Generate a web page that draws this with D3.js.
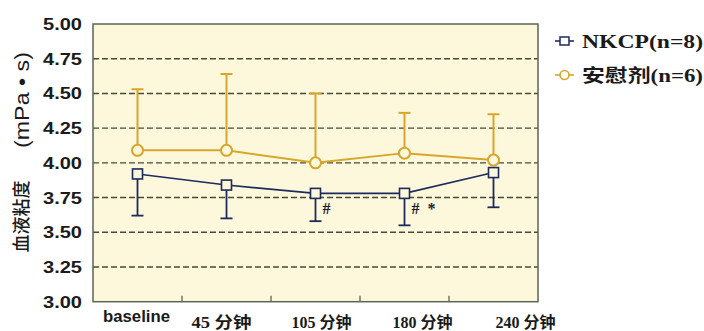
<!DOCTYPE html>
<html><head><meta charset="utf-8">
<script src="https://cdn.jsdelivr.net/npm/d3@7/dist/d3.min.js"></script>
<style>
html,body{margin:0;padding:0;background:#fff;}
svg{display:block;}
</style></head>
<body>
<svg id="c" width="704" height="331"></svg>
<script>
// ---- data ----
const categories = ["baseline", "45 分钟", "105 分钟", "180 分钟", "240 分钟"];
const nkcpMean = [3.92, 3.84, 3.78, 3.78, 3.93];
const nkcpLow  = [3.62, 3.60, 3.58, 3.55, 3.68];
const placeboMean = [4.09, 4.09, 4.00, 4.07, 4.02];
const placeboHigh = [4.53, 4.64, 4.50, 4.36, 4.35];
const yTicks = [3.00, 3.25, 3.50, 3.75, 4.00, 4.25, 4.50, 4.75, 5.00];
const seriesNames = ["NKCP(n=8)", "安慰剂(n=6)"];
const annotations = [{cat: "105 分钟", text: "#"}, {cat: "180 分钟", text: "# *"}];
const yTitleName = "血液粘度";
const yTitleUnit = "(mPa • s)";

// ---- layout ----
const L = 93, R = 538, T = 24, B = 301.7;
const navy = "#1d2b5c", gold = "#d7a62c", bg = "#fdf8dc", grid = "#4a4836", border = "#5b6456";
const labelShift = [-1, -5, 6, 18, 32];

const svg = d3.select("#c");
const x = d3.scalePoint().domain(categories).range([L, R]).padding(0.5);
const y = d3.scaleLinear().domain([3, 5]).range([B, T]);

// plot background
svg.append("rect").attr("x", L).attr("y", T).attr("width", R - L).attr("height", B - T)
  .attr("fill", bg);

// gridlines
svg.append("g").selectAll("line").data(yTicks.filter(d => d > 3 && d < 5)).join("line")
  .attr("x1", L).attr("x2", R).attr("y1", d => y(d)).attr("y2", d => y(d))
  .attr("stroke", grid).attr("stroke-width", 1.4).attr("stroke-dasharray", "6,3");

// border
svg.append("rect").attr("x", L).attr("y", T).attr("width", R - L).attr("height", B - T)
  .attr("fill", "none").attr("stroke", border).attr("stroke-width", 1.5);

// x ticks at band boundaries (internal)
const step = x.step();
svg.append("g").selectAll("line").data(categories.slice(1)).join("line")
  .attr("x1", d => x(d) - step / 2).attr("x2", d => x(d) - step / 2)
  .attr("y1", B).attr("y2", B - 6)
  .attr("stroke", border).attr("stroke-width", 1.3);

// y axis labels
const yAxis = svg.append("g").attr("transform", `translate(${L},0)`)
  .call(d3.axisLeft(y).tickValues(yTicks).tickFormat(d3.format(".2f")).tickSize(0).tickPadding(11));
yAxis.select(".domain").remove();
yAxis.selectAll("text")
  .attr("font-family", "'Liberation Sans', Arial, sans-serif")
  .attr("font-weight", "bold").attr("font-size", 17).attr("fill", "#1a1a1a")
  .attr("textLength", 39).attr("lengthAdjust", "spacingAndGlyphs");

// x labels
svg.append("g").selectAll("text").data(categories).join("text")
  .attr("x", (d, i) => x(d) + labelShift[i])
  .attr("y", (d, i) => i === 0 ? 322 : 328)
  .attr("text-anchor", "middle")
  .attr("font-family", (d, i) => i === 0 ? "'Liberation Sans', Arial, sans-serif" : "'Liberation Serif', 'Noto Sans CJK SC', serif")
  .attr("font-weight", "bold")
  .attr("font-size", (d, i) => i === 0 ? 16.5 : 16)
  .attr("fill", "#1a1a1a")
  .attr("textLength", (d, i) => i === 0 ? 67 : 60)
  .attr("lengthAdjust", "spacingAndGlyphs")
  .text(d => d);

// y title (two parts)
svg.append("text")
  .attr("transform", `translate(28,216.5) rotate(-90)`)
  .attr("text-anchor", "middle")
  .attr("font-family", "'Noto Sans CJK SC', sans-serif")
  .attr("font-size", 18).attr("font-weight", 500).attr("fill", "#1a1a1a")
  .text(yTitleName);
svg.append("text")
  .attr("transform", `translate(29,100) rotate(-90)`)
  .attr("text-anchor", "middle")
  .attr("font-family", "'Liberation Sans', Arial, sans-serif")
  .attr("font-size", 20).attr("fill", "#1a1a1a")
  .attr("textLength", 96).attr("lengthAdjust", "spacingAndGlyphs")
  .text(yTitleUnit);

// ---- placebo series ----
const line = d3.line().x(d => x(d.c)).y(d => y(d.v));
const pData = categories.map((c, i) => ({c, v: placeboMean[i], hi: placeboHigh[i]}));
const nData = categories.map((c, i) => ({c, v: nkcpMean[i], lo: nkcpLow[i]}));

const gP = svg.append("g");
gP.selectAll("line.eb").data(pData).join("line")
  .attr("x1", d => x(d.c)).attr("x2", d => x(d.c)).attr("y1", d => y(d.v)).attr("y2", d => y(d.hi))
  .attr("stroke", gold).attr("stroke-width", 2);
gP.selectAll("line.cap").data(pData).join("line")
  .attr("x1", d => x(d.c) - 6).attr("x2", d => x(d.c) + 6).attr("y1", d => y(d.hi)).attr("y2", d => y(d.hi))
  .attr("stroke", gold).attr("stroke-width", 2);
gP.append("path").datum(pData).attr("d", line).attr("fill", "none")
  .attr("stroke", gold).attr("stroke-width", 2);
gP.selectAll("circle").data(pData).join("circle")
  .attr("cx", d => x(d.c)).attr("cy", d => y(d.v)).attr("r", 5.5)
  .attr("fill", bg).attr("stroke", gold).attr("stroke-width", 2);

// ---- NKCP series ----
const gN = svg.append("g");
gN.selectAll("line.eb").data(nData).join("line")
  .attr("x1", d => x(d.c)).attr("x2", d => x(d.c)).attr("y1", d => y(d.v)).attr("y2", d => y(d.lo))
  .attr("stroke", navy).attr("stroke-width", 1.8);
gN.selectAll("line.cap").data(nData).join("line")
  .attr("x1", d => x(d.c) - 6).attr("x2", d => x(d.c) + 6).attr("y1", d => y(d.lo)).attr("y2", d => y(d.lo))
  .attr("stroke", navy).attr("stroke-width", 1.8);
gN.append("path").datum(nData).attr("d", line).attr("fill", "none")
  .attr("stroke", navy).attr("stroke-width", 1.6);
gN.selectAll("rect").data(nData).join("rect")
  .attr("x", d => x(d.c) - 5).attr("y", d => y(d.v) - 5).attr("width", 10).attr("height", 10)
  .attr("fill", bg).attr("stroke", navy).attr("stroke-width", 1.6);

// annotations
svg.append("g").selectAll("text").data(annotations).join("text")
  .attr("x", d => x(d.cat) + 7)
  .attr("y", 214)
  .attr("font-family", "'Liberation Serif', serif").attr("font-weight", "bold")
  .attr("font-size", 16).attr("fill", "#1a1a2a")
  .attr("xml:space", "preserve")
  .text(d => d.text.replace(" ", "  "));

// ---- legend ----
const leg = svg.append("g");
const legY = [41, 75];
const legColors = [navy, gold];
seriesNames.forEach((name, i) => {
  const g = leg.append("g").attr("transform", `translate(0,${legY[i]})`);
  g.append("line").attr("x1", 555).attr("x2", 574).attr("y1", 0).attr("y2", 0)
    .attr("stroke", legColors[i]).attr("stroke-width", 1.6);
  if (i === 0) {
    g.append("rect").attr("x", 560).attr("y", -4).attr("width", 9).attr("height", 8)
      .attr("fill", "#fff").attr("stroke", navy).attr("stroke-width", 1.5);
  } else {
    g.append("circle").attr("cx", 564.5).attr("cy", 0).attr("r", 4.5)
      .attr("fill", "#fff").attr("stroke", gold).attr("stroke-width", 1.6);
  }
  g.append("text").attr("x", 582).attr("y", 6.5)
    .attr("font-family", "'Liberation Serif', 'Noto Sans CJK SC', serif")
    .attr("font-weight", "bold").attr("font-size", 18).attr("fill", "#1a1a1a")
    .attr("textLength", 121).attr("lengthAdjust", "spacingAndGlyphs")
    .text(name);
});
</script>
</body></html>
